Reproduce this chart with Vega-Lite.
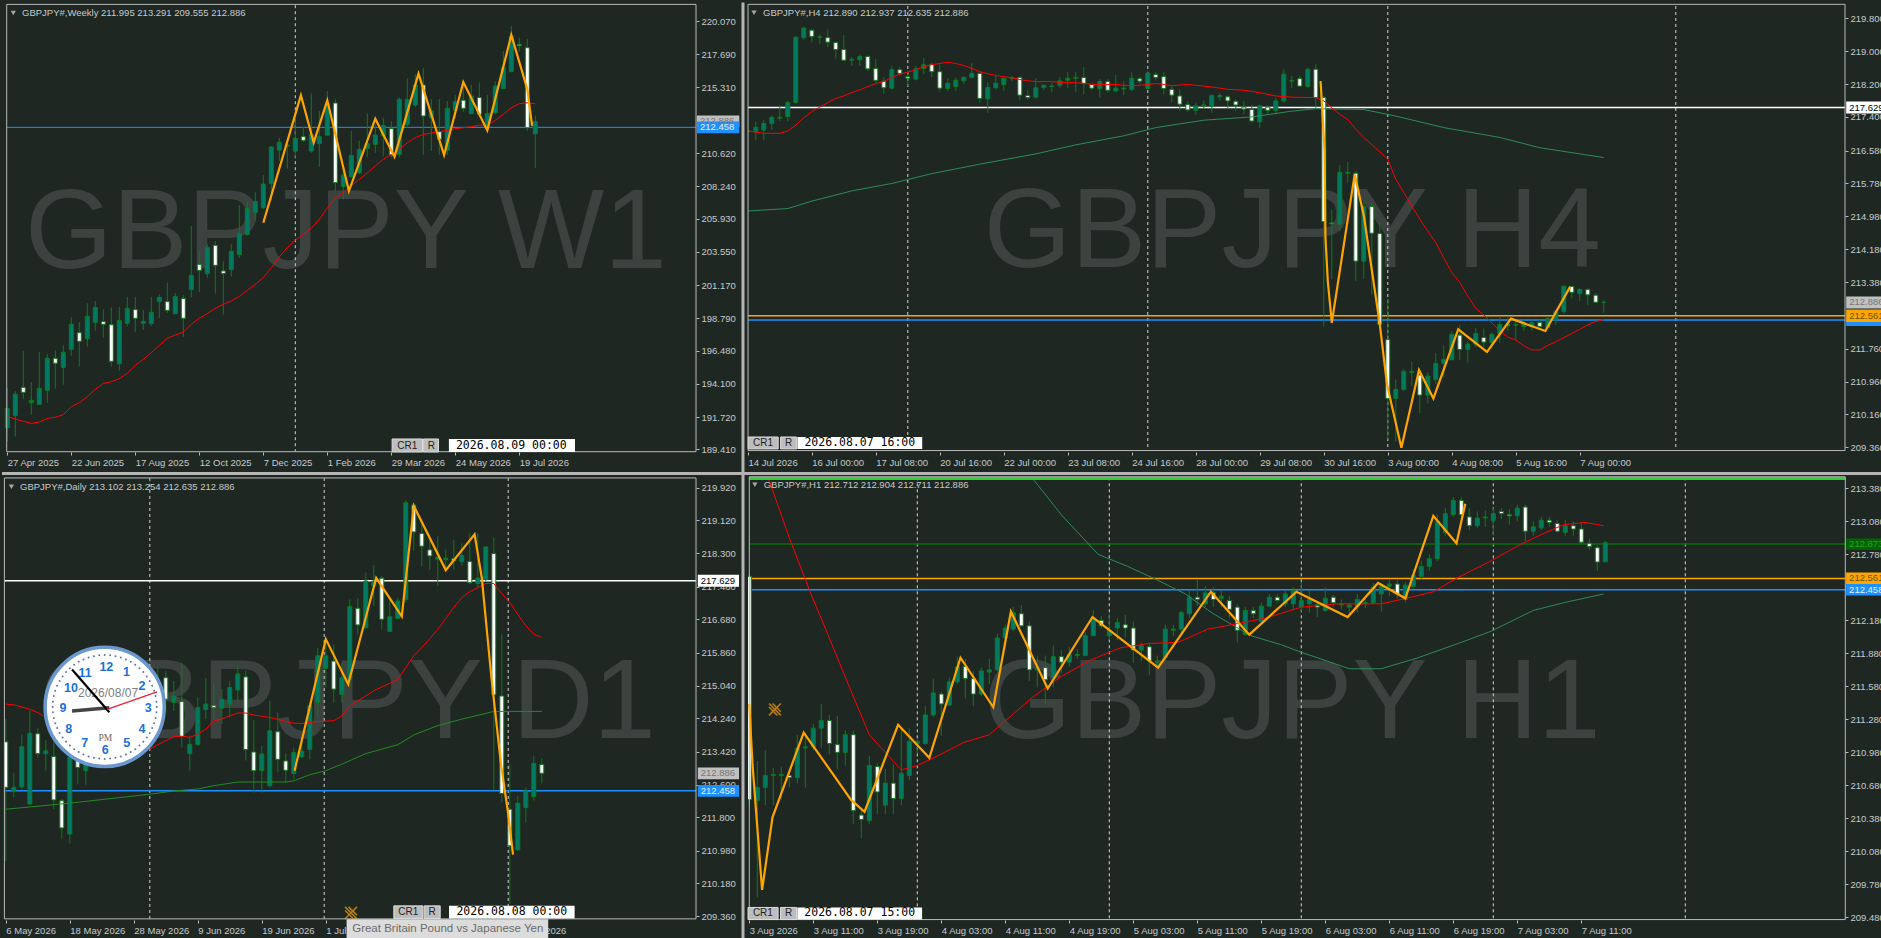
{"$schema":"https://vega.github.io/schema/vega-lite/v6.json","background":"#1f2723","padding":0,"bounds":"flush","align":"each","columns":2,"spacing":{"row":24,"column":52},
"config":{"view":{"stroke":null},"font":"Liberation Sans","axis":{"grid":false,"domain":false,"title":null,"labelColor":"#c6cacc","labelFont":"Liberation Sans","labelFontSize":9.5,"tickColor":"#b9b9b9","tickSize":3,"labelPadding":2,"labelOverlap":false,"labelFlush":false,"labelBound":false}},
"datasets":{
"a":[{"i":0,"o":190.96,"h":193.82,"l":189.96,"c":192.34},{"i":1,"o":191.82,"h":193.58,"l":190.32,"c":193.35},{"i":2,"o":193.85,"h":196.45,"l":193.04,"c":193.49},{"i":3,"o":192.75,"h":194.23,"l":191.89,"c":192.92},{"i":4,"o":192.63,"h":196.38,"l":192.6,"c":193.77},{"i":5,"o":193.63,"h":196.21,"l":192.75,"c":195.92},{"i":6,"o":195.92,"h":196.5,"l":193.75,"c":195.57},{"i":7,"o":195.28,"h":196.85,"l":194.04,"c":196.35},{"i":8,"o":196.57,"h":198.86,"l":196.11,"c":198.36},{"i":9,"o":197.76,"h":198.52,"l":195.33,"c":197.14},{"i":10,"o":197.33,"h":199.86,"l":196.76,"c":198.93},{"i":11,"o":198.5,"h":200.03,"l":197.9,"c":199.57},{"i":12,"o":198.55,"h":199.43,"l":197.4,"c":198.36},{"i":13,"o":198.33,"h":199.57,"l":195.33,"c":195.71},{"i":14,"o":195.54,"h":199.6,"l":195.04,"c":198.64},{"i":15,"o":198.43,"h":200.31,"l":198.19,"c":199.5},{"i":16,"o":199.41,"h":200.31,"l":197.81,"c":198.79},{"i":17,"o":198.43,"h":199.38,"l":197.95,"c":198.57},{"i":18,"o":198.41,"h":200.31,"l":198.24,"c":199.22},{"i":19,"o":199.98,"h":200.51,"l":198.79,"c":200.29},{"i":20,"o":199.98,"h":201.34,"l":199.17,"c":199.36},{"i":21,"o":199.12,"h":200.6,"l":199.12,"c":200.36},{"i":22,"o":200.2,"h":200.46,"l":197.45,"c":198.79},{"i":23,"o":200.84,"h":205.4,"l":200.27,"c":201.87},{"i":24,"o":202.65,"h":203.61,"l":200.67,"c":202.22},{"i":25,"o":201.99,"h":204.09,"l":201.7,"c":203.87},{"i":26,"o":204.01,"h":204.32,"l":200.55,"c":202.58},{"i":27,"o":202.18,"h":202.87,"l":199.07,"c":201.99},{"i":28,"o":202.27,"h":204.09,"l":201.77,"c":203.58},{"i":29,"o":203.35,"h":206.9,"l":203.1,"c":204.85},{"i":30,"o":204.79,"h":207.2,"l":204.7,"c":206.66},{"i":31,"o":206.37,"h":207.8,"l":205.8,"c":207.16},{"i":32,"o":206.7,"h":209.05,"l":206.6,"c":208.4},{"i":33,"o":208.42,"h":211.12,"l":207.2,"c":211.05},{"i":34,"o":210.83,"h":211.7,"l":210.05,"c":211.4},{"i":35,"o":211.12,"h":211.5,"l":209.5,"c":211.2},{"i":36,"o":210.76,"h":213.1,"l":210.3,"c":211.67},{"i":37,"o":211.79,"h":212.5,"l":211.4,"c":211.53},{"i":38,"o":210.76,"h":214.87,"l":210.64,"c":211.95},{"i":39,"o":211.29,"h":213.63,"l":209.64,"c":211.79},{"i":40,"o":211.9,"h":215.06,"l":211.9,"c":214.1},{"i":41,"o":214.2,"h":214.46,"l":207.9,"c":208.5},{"i":42,"o":208.23,"h":209.3,"l":207.3,"c":209.04},{"i":43,"o":208.92,"h":212.2,"l":208.85,"c":210.45},{"i":44,"o":209.2,"h":211.5,"l":209.1,"c":210.88},{"i":45,"o":210.95,"h":213.43,"l":210.3,"c":211.29},{"i":46,"o":211.24,"h":212.67,"l":210.64,"c":211.9},{"i":47,"o":211.84,"h":213.15,"l":210.4,"c":212.6},{"i":48,"o":212.36,"h":212.9,"l":210.3,"c":210.48},{"i":49,"o":210.52,"h":214.63,"l":210.3,"c":214.46},{"i":50,"o":212.67,"h":215.96,"l":212.43,"c":214.46},{"i":51,"o":214.05,"h":216.25,"l":213.9,"c":215.49},{"i":52,"o":215.49,"h":216.7,"l":210.5,"c":213.27},{"i":53,"o":213.15,"h":214.5,"l":210.77,"c":213.63},{"i":54,"o":212.15,"h":214.47,"l":210.5,"c":211.6},{"i":55,"o":210.82,"h":214.35,"l":210.5,"c":213.82},{"i":56,"o":213.68,"h":214.78,"l":213.1,"c":214.3},{"i":57,"o":214.4,"h":215.42,"l":213.58,"c":213.82},{"i":58,"o":213.44,"h":215.5,"l":213.4,"c":214.7},{"i":59,"o":214.59,"h":215.66,"l":213.27,"c":213.39},{"i":60,"o":212.56,"h":214.78,"l":212.44,"c":213.44},{"i":61,"o":213.51,"h":215.75,"l":213.4,"c":215.42},{"i":62,"o":215.23,"h":217.92,"l":215.2,"c":216.73},{"i":63,"o":216.44,"h":219.71,"l":216.44,"c":218.99},{"i":64,"o":218.4,"h":218.88,"l":217.9,"c":218.3},{"i":65,"o":218.16,"h":218.8,"l":212.2,"c":212.43},{"i":66,"o":211.995,"h":213.291,"l":209.555,"c":212.886}],
"aR":[{"i":0,"p":191.75},{"i":1,"p":191.58},{"i":2,"p":191.41},{"i":3,"p":191.27},{"i":4,"p":191.36},{"i":5,"p":191.63},{"i":6,"p":191.7},{"i":7,"p":191.89},{"i":8,"p":192.46},{"i":9,"p":192.75},{"i":10,"p":193.18},{"i":11,"p":193.7},{"i":12,"p":194.13},{"i":13,"p":194.25},{"i":14,"p":194.47},{"i":15,"p":194.85},{"i":16,"p":195.42},{"i":17,"p":195.85},{"i":18,"p":196.33},{"i":19,"p":196.85},{"i":20,"p":197.36},{"i":21,"p":197.59},{"i":22,"p":197.8},{"i":23,"p":198.36},{"i":24,"p":198.79},{"i":25,"p":199.12},{"i":26,"p":199.5},{"i":27,"p":199.79},{"i":28,"p":200.03},{"i":29,"p":200.36},{"i":30,"p":200.79},{"i":31,"p":201.22},{"i":32,"p":201.7},{"i":33,"p":202.41},{"i":34,"p":203.18},{"i":35,"p":203.85},{"i":36,"p":204.37},{"i":37,"p":204.8},{"i":38,"p":205.23},{"i":39,"p":205.87},{"i":40,"p":206.7},{"i":41,"p":207.4},{"i":42,"p":207.8},{"i":43,"p":208.26},{"i":44,"p":208.74},{"i":45,"p":209.2},{"i":46,"p":209.69},{"i":47,"p":210.17},{"i":48,"p":210.52},{"i":49,"p":210.88},{"i":50,"p":211.36},{"i":51,"p":211.72},{"i":52,"p":211.95},{"i":53,"p":212.05},{"i":54,"p":212.15},{"i":55,"p":212.24},{"i":56,"p":212.36},{"i":57,"p":212.43},{"i":58,"p":212.5},{"i":59,"p":212.62},{"i":60,"p":212.6},{"i":61,"p":212.96},{"i":62,"p":213.39},{"i":63,"p":213.86},{"i":64,"p":214.15},{"i":65,"p":214.22},{"i":66,"p":214.15}],
"aZ":[{"i":32,"p":205.63},{"i":36.7,"p":214.75},{"i":38.3,"p":211.36},{"i":40,"p":214.39},{"i":42.7,"p":207.9},{"i":46,"p":213.08},{"i":48.4,"p":210.36},{"i":51.4,"p":216.3},{"i":54.6,"p":210.47},{"i":57,"p":215.7},{"i":60,"p":212.24},{"i":63,"p":219.07},{"i":65,"p":215.18},{"i":65.6,"p":212.56}],
"b":[{"i":0,"o":217.07,"h":217.3,"l":216.9,"c":217.05},{"i":1,"o":217.03,"h":217.28,"l":216.83,"c":217.15},{"i":2,"o":217.08,"h":217.33,"l":216.84,"c":217.24},{"i":3,"o":217.24,"h":217.45,"l":217.09,"c":217.39},{"i":4,"o":217.37,"h":217.69,"l":217.3,"c":217.39},{"i":5,"o":217.41,"h":217.79,"l":217.29,"c":217.75},{"i":6,"o":217.75,"h":219.37,"l":217.72,"c":219.34},{"i":7,"o":219.33,"h":219.6,"l":219.28,"c":219.56},{"i":8,"o":219.51,"h":219.53,"l":219.21,"c":219.36},{"i":9,"o":219.34,"h":219.41,"l":219.18,"c":219.35},{"i":10,"o":219.33,"h":219.53,"l":219.1,"c":219.22},{"i":11,"o":219.21,"h":219.23,"l":218.82,"c":219.04},{"i":12,"o":219.04,"h":219.39,"l":218.76,"c":218.78},{"i":13,"o":218.78,"h":218.86,"l":218.64,"c":218.8},{"i":14,"o":218.79,"h":218.92,"l":218.64,"c":218.87},{"i":15,"o":218.87,"h":218.9,"l":218.52,"c":218.57},{"i":16,"o":218.58,"h":218.81,"l":218.23,"c":218.29},{"i":17,"o":218.27,"h":218.36,"l":217.96,"c":218.11},{"i":18,"o":218.1,"h":218.64,"l":218.06,"c":218.55},{"i":19,"o":218.55,"h":218.61,"l":218.4,"c":218.46},{"i":20,"o":218.38,"h":218.53,"l":218.15,"c":218.34},{"i":21,"o":218.32,"h":218.64,"l":218.29,"c":218.57},{"i":22,"o":218.58,"h":218.83,"l":218.44,"c":218.67},{"i":23,"o":218.68,"h":218.72,"l":218.37,"c":218.5},{"i":24,"o":218.5,"h":218.68,"l":218.02,"c":218.1},{"i":25,"o":218.09,"h":218.34,"l":218.02,"c":218.22},{"i":26,"o":218.14,"h":218.36,"l":218.03,"c":218.29},{"i":27,"o":218.28,"h":218.4,"l":218.2,"c":218.36},{"i":28,"o":218.36,"h":218.71,"l":218.34,"c":218.46},{"i":29,"o":218.46,"h":218.52,"l":217.75,"c":217.85},{"i":30,"o":217.84,"h":218.25,"l":217.5,"c":218.12},{"i":31,"o":218.11,"h":218.4,"l":218.07,"c":218.22},{"i":32,"o":218.19,"h":218.37,"l":218.03,"c":218.34},{"i":33,"o":218.34,"h":218.4,"l":218.27,"c":218.36},{"i":34,"o":218.36,"h":218.4,"l":217.81,"c":217.93},{"i":35,"o":217.92,"h":218.05,"l":217.81,"c":217.87},{"i":36,"o":217.88,"h":218.34,"l":217.85,"c":218.11},{"i":37,"o":218.12,"h":218.19,"l":218.05,"c":218.17},{"i":38,"o":218.15,"h":218.23,"l":218,"c":218.14},{"i":39,"o":218.17,"h":218.37,"l":218.11,"c":218.28},{"i":40,"o":218.29,"h":218.49,"l":218.11,"c":218.34},{"i":41,"o":218.34,"h":218.49,"l":218.01,"c":218.36},{"i":42,"o":218.36,"h":218.61,"l":217.95,"c":218.21},{"i":43,"o":218.19,"h":218.21,"l":218.05,"c":218.1},{"i":44,"o":218.09,"h":218.32,"l":217.87,"c":218.26},{"i":45,"o":218.26,"h":218.32,"l":217.99,"c":218.05},{"i":46,"o":218.03,"h":218.42,"l":218,"c":218.1},{"i":47,"o":218.08,"h":218.27,"l":217.93,"c":218.1},{"i":48,"o":218.07,"h":218.48,"l":218.03,"c":218.34},{"i":49,"o":218.33,"h":218.37,"l":218.2,"c":218.27},{"i":50,"o":218.09,"h":218.52,"l":218.08,"c":218.46},{"i":51,"o":218.43,"h":218.49,"l":218.29,"c":218.36},{"i":52,"o":218.38,"h":218.49,"l":217.95,"c":218.09},{"i":53,"o":218.07,"h":218.15,"l":217.75,"c":217.93},{"i":54,"o":217.91,"h":218.07,"l":217.54,"c":217.71},{"i":55,"o":217.7,"h":217.79,"l":217.53,"c":217.57},{"i":56,"o":217.56,"h":217.75,"l":217.45,"c":217.67},{"i":57,"o":217.66,"h":217.8,"l":217.6,"c":217.69},{"i":58,"o":217.66,"h":217.95,"l":217.5,"c":217.92},{"i":59,"o":217.89,"h":217.98,"l":217.8,"c":217.92},{"i":60,"o":217.89,"h":217.92,"l":217.6,"c":217.79},{"i":61,"o":217.78,"h":217.83,"l":217.54,"c":217.69},{"i":62,"o":217.64,"h":217.79,"l":217.46,"c":217.59},{"i":63,"o":217.58,"h":217.7,"l":217.26,"c":217.3},{"i":64,"o":217.28,"h":217.7,"l":217.14,"c":217.67},{"i":65,"o":217.64,"h":217.69,"l":217.46,"c":217.56},{"i":66,"o":217.56,"h":217.87,"l":217.46,"c":217.79},{"i":67,"o":217.79,"h":218.56,"l":217.75,"c":218.44},{"i":68,"o":218.27,"h":218.4,"l":218.1,"c":218.29},{"i":69,"o":218.33,"h":218.4,"l":218.13,"c":218.15},{"i":70,"o":218.14,"h":218.6,"l":218.11,"c":218.56},{"i":71,"o":218.56,"h":218.68,"l":217.62,"c":217.87},{"i":72,"o":217.87,"h":217.91,"l":212.3,"c":214.85},{"i":73,"o":214.82,"h":215.13,"l":213.45,"c":214.8},{"i":74,"o":214.79,"h":216.23,"l":214.62,"c":216.05},{"i":75,"o":216.03,"h":216.3,"l":215.8,"c":216.05},{"i":76,"o":216.03,"h":216.08,"l":213.41,"c":213.89},{"i":77,"o":213.89,"h":215.37,"l":213.46,"c":215.22},{"i":78,"o":215.22,"h":215.3,"l":213.08,"c":214.57},{"i":79,"o":214.56,"h":214.84,"l":212.31,"c":212.35},{"i":80,"o":211.98,"h":212.98,"l":209.55,"c":210.55},{"i":81,"o":210.55,"h":211.01,"l":209.51,"c":210.77},{"i":82,"o":210.77,"h":211.26,"l":210.73,"c":211.21},{"i":83,"o":211.18,"h":211.44,"l":210.85,"c":211.2},{"i":84,"o":211.12,"h":211.18,"l":210.19,"c":210.63},{"i":85,"o":210.63,"h":211.18,"l":210.43,"c":211.09},{"i":86,"o":211.01,"h":211.65,"l":210.89,"c":211.4},{"i":87,"o":211.4,"h":211.84,"l":211.06,"c":211.5},{"i":88,"o":211.49,"h":212.19,"l":211.48,"c":212.11},{"i":89,"o":212.09,"h":212.34,"l":211.48,"c":211.74},{"i":90,"o":211.74,"h":211.95,"l":211.42,"c":211.87},{"i":91,"o":211.87,"h":212.26,"l":211.8,"c":212.13},{"i":92,"o":212.03,"h":212.25,"l":211.78,"c":211.92},{"i":93,"o":211.91,"h":212.15,"l":211.75,"c":212.11},{"i":94,"o":212.13,"h":212.54,"l":211.91,"c":212.35},{"i":95,"o":212.35,"h":212.54,"l":212.19,"c":212.32},{"i":96,"o":212.33,"h":212.47,"l":211.97,"c":212.35},{"i":97,"o":212.3,"h":212.47,"l":212.19,"c":212.39},{"i":98,"o":212.3,"h":212.47,"l":212.19,"c":212.39},{"i":99,"o":212.4,"h":212.47,"l":212.21,"c":212.3},{"i":100,"o":212.27,"h":212.53,"l":212.26,"c":212.49},{"i":101,"o":212.47,"h":212.72,"l":212.34,"c":212.66},{"i":102,"o":212.66,"h":213.29,"l":212.61,"c":213.28},{"i":103,"o":213.27,"h":213.29,"l":212.98,"c":213.13},{"i":104,"o":213.1,"h":213.24,"l":212.92,"c":213.2},{"i":105,"o":213.2,"h":213.23,"l":212.82,"c":213.07},{"i":106,"o":213.06,"h":213.11,"l":212.88,"c":212.89},{"i":107,"o":212.89,"h":212.937,"l":212.635,"c":212.886}],
"bR":[{"i":0,"p":217.06},{"i":1,"p":217.03},{"i":2,"p":217},{"i":3,"p":217},{"i":4,"p":217},{"i":5,"p":217.06},{"i":6,"p":217.2},{"i":7,"p":217.38},{"i":8,"p":217.53},{"i":9,"p":217.64},{"i":10,"p":217.75},{"i":11,"p":217.85},{"i":12,"p":217.91},{"i":13,"p":217.99},{"i":14,"p":218.06},{"i":15,"p":218.14},{"i":16,"p":218.21},{"i":17,"p":218.26},{"i":18,"p":218.36},{"i":19,"p":218.44},{"i":20,"p":218.49},{"i":21,"p":218.55},{"i":22,"p":218.62},{"i":23,"p":218.67},{"i":24,"p":218.7},{"i":25,"p":218.73},{"i":26,"p":218.7},{"i":27,"p":218.65},{"i":28,"p":218.58},{"i":29,"p":218.5},{"i":30,"p":218.45},{"i":31,"p":218.41},{"i":32,"p":218.38},{"i":33,"p":218.35},{"i":34,"p":218.31},{"i":35,"p":218.28},{"i":36,"p":218.26},{"i":37,"p":218.26},{"i":38,"p":218.26},{"i":39,"p":218.24},{"i":40,"p":218.24},{"i":41,"p":218.23},{"i":42,"p":218.22},{"i":43,"p":218.19},{"i":44,"p":218.19},{"i":45,"p":218.19},{"i":46,"p":218.19},{"i":47,"p":218.17},{"i":48,"p":218.16},{"i":49,"p":218.17},{"i":50,"p":218.19},{"i":51,"p":218.21},{"i":52,"p":218.19},{"i":53,"p":218.16},{"i":55,"p":218.19},{"i":56,"p":218.17},{"i":58,"p":218.13},{"i":60,"p":218.07},{"i":62,"p":218.05},{"i":64,"p":217.99},{"i":66,"p":217.91},{"i":68,"p":217.88},{"i":71,"p":217.87},{"i":72,"p":217.79},{"i":73,"p":217.62},{"i":74,"p":217.46},{"i":75,"p":217.34},{"i":76,"p":217.1},{"i":77,"p":216.9},{"i":79,"p":216.55},{"i":80,"p":216.37},{"i":81,"p":215.88},{"i":82,"p":215.56},{"i":83,"p":215.23},{"i":84,"p":214.91},{"i":85,"p":214.62},{"i":86,"p":214.34},{"i":87,"p":213.97},{"i":88,"p":213.61},{"i":89,"p":213.37},{"i":90,"p":213.04},{"i":91,"p":212.74},{"i":92,"p":212.58},{"i":93,"p":212.39},{"i":94,"p":212.19},{"i":95,"p":212.04},{"i":96,"p":211.97},{"i":97,"p":211.83},{"i":98,"p":211.73},{"i":99,"p":211.73},{"i":100,"p":211.84},{"i":101,"p":211.93},{"i":102,"p":212.03},{"i":103,"p":212.13},{"i":104,"p":212.23},{"i":105,"p":212.34},{"i":106,"p":212.42},{"i":107,"p":212.47}],
"bG":[{"i":0,"p":215.11},{"i":5,"p":215.17},{"i":8,"p":215.35},{"i":13,"p":215.6},{"i":18,"p":215.78},{"i":23,"p":216.02},{"i":29,"p":216.25},{"i":36,"p":216.5},{"i":41,"p":216.72},{"i":47,"p":216.94},{"i":51,"p":217.14},{"i":57,"p":217.32},{"i":63,"p":217.4},{"i":68,"p":217.54},{"i":71,"p":217.6},{"i":77,"p":217.58},{"i":81,"p":217.42},{"i":87,"p":217.14},{"i":94,"p":216.9},{"i":99,"p":216.65},{"i":107,"p":216.41}],
"bZ":[{"i":71.6,"p":218.27},{"i":72.1,"p":216.57},{"i":72.2,"p":214.5},{"i":72.5,"p":213.4},{"i":73,"p":212.39},{"i":75.86,"p":216},{"i":77,"p":215},{"i":79,"p":212.35},{"i":79.9,"p":210.89},{"i":81.7,"p":209.35},{"i":83.9,"p":211.24},{"i":85.7,"p":210.55},{"i":88.8,"p":212.23},{"i":92.4,"p":211.68},{"i":95.4,"p":212.49},{"i":99.7,"p":212.19},{"i":102.8,"p":213.27}],
"c":[{"i":0,"o":213.66,"h":214.22,"l":210.73,"c":212.54},{"i":1,"o":212.45,"h":212.9,"l":212.3,"c":212.54},{"i":2,"o":212.55,"h":213.85,"l":212.5,"c":213.54},{"i":3,"o":212.13,"h":214.42,"l":212.1,"c":213.87},{"i":4,"o":213.86,"h":214,"l":213.28,"c":213.37},{"i":5,"o":213.37,"h":213.7,"l":212.95,"c":213.44},{"i":6,"o":213.3,"h":213.7,"l":212,"c":212.23},{"i":7,"o":212.21,"h":212.25,"l":211.28,"c":211.54},{"i":8,"o":211.39,"h":213.44,"l":211.16,"c":213.28},{"i":9,"o":213.2,"h":213.35,"l":212.62,"c":213.03},{"i":10,"o":212.95,"h":213.27,"l":212.6,"c":213.11},{"i":19,"o":214.8,"h":215.5,"l":214.4,"c":215.1},{"i":20,"o":215.24,"h":215.4,"l":214.4,"c":214.71},{"i":21,"o":214.63,"h":215.16,"l":214.42,"c":214.79},{"i":22,"o":214.65,"h":215.61,"l":213.52,"c":213.79},{"i":23,"o":213.37,"h":213.81,"l":212.95,"c":213.6},{"i":24,"o":213.6,"h":214.75,"l":213.56,"c":214.5},{"i":25,"o":214.46,"h":215.23,"l":214.22,"c":214.59},{"i":26,"o":214.56,"h":215.08,"l":214.2,"c":214.5},{"i":27,"o":214.49,"h":214.96,"l":214.1,"c":214.71},{"i":28,"o":214.59,"h":215.16,"l":214.26,"c":215},{"i":29,"o":214.94,"h":215.53,"l":214.67,"c":215.33},{"i":30,"o":215.26,"h":215.41,"l":213.2,"c":213.47},{"i":31,"o":213.41,"h":214.2,"l":212.41,"c":212.95},{"i":32,"o":212.95,"h":213.56,"l":212.41,"c":213.36},{"i":33,"o":212.58,"h":214.67,"l":212.54,"c":213.93},{"i":34,"o":213.91,"h":214.38,"l":212.91,"c":213.23},{"i":35,"o":213.19,"h":213.36,"l":212.66,"c":212.96},{"i":36,"o":212.88,"h":213.52,"l":212.74,"c":213.4},{"i":37,"o":213.29,"h":213.77,"l":213.26,"c":213.43},{"i":38,"o":213.47,"h":214.63,"l":213.23,"c":214.55},{"i":39,"o":214.63,"h":215.98,"l":214.26,"c":215.78},{"i":40,"o":215.47,"h":216.14,"l":215,"c":215.78},{"i":41,"o":215.65,"h":216.06,"l":214.63,"c":214.96},{"i":42,"o":214.83,"h":215.61,"l":214.63,"c":215.24},{"i":43,"o":215.2,"h":217.17,"l":215,"c":216.99},{"i":44,"o":216.95,"h":217.2,"l":216.3,"c":216.54},{"i":45,"o":216.47,"h":217.83,"l":216.43,"c":217.62},{"i":46,"o":217.5,"h":218.01,"l":217,"c":217.62},{"i":47,"o":217.69,"h":217.75,"l":216.43,"c":216.68},{"i":48,"o":216.38,"h":217.17,"l":216.37,"c":216.74},{"i":49,"o":216.7,"h":217.21,"l":216.68,"c":217.13},{"i":50,"o":217.17,"h":219.61,"l":217.09,"c":219.55},{"i":51,"o":219.49,"h":219.53,"l":218.36,"c":218.83},{"i":52,"o":218.79,"h":219.1,"l":217.99,"c":218.48},{"i":53,"o":218.39,"h":218.69,"l":217.89,"c":218.24},{"i":54,"o":218.16,"h":218.73,"l":217.5,"c":218.21},{"i":55,"o":218.15,"h":218.4,"l":217.9,"c":218.18},{"i":56,"o":218.17,"h":218.63,"l":217.9,"c":218.12},{"i":57,"o":218.1,"h":218.55,"l":218,"c":218.25},{"i":58,"o":218.1,"h":218.79,"l":217.54,"c":217.58},{"i":59,"o":217.56,"h":218.79,"l":217.46,"c":217.69},{"i":60,"o":217.66,"h":218.48,"l":217.62,"c":218.46},{"i":61,"o":218.3,"h":218.69,"l":212.46,"c":214.82},{"i":62,"o":214.79,"h":216.31,"l":212.17,"c":212.39},{"i":63,"o":212,"h":213.1,"l":209.67,"c":211.1},{"i":64,"o":211,"h":212.33,"l":210.98,"c":212.15},{"i":65,"o":212.04,"h":212.54,"l":211.68,"c":212.45},{"i":66,"o":212.31,"h":213.32,"l":212.21,"c":213.13},{"i":67,"o":213.102,"h":213.254,"l":212.635,"c":212.886}],
"cR":[{"i":0,"p":214.59},{"i":1,"p":214.57},{"i":2,"p":214.52},{"i":3,"p":214.46},{"i":4,"p":214.38},{"i":5,"p":214.26},{"i":18,"p":213.48},{"i":19,"p":213.59},{"i":20,"p":213.69},{"i":21,"p":213.79},{"i":22,"p":213.8},{"i":23,"p":213.77},{"i":24,"p":213.85},{"i":25,"p":213.97},{"i":26,"p":214.18},{"i":27,"p":214.22},{"i":28,"p":214.3},{"i":29,"p":214.37},{"i":30,"p":214.37},{"i":31,"p":214.32},{"i":32,"p":214.29},{"i":33,"p":214.26},{"i":34,"p":214.22},{"i":35,"p":214.16},{"i":36,"p":214.12},{"i":37,"p":214.11},{"i":38,"p":214.14},{"i":39,"p":214.16},{"i":40,"p":214.17},{"i":41,"p":214.18},{"i":42,"p":214.3},{"i":43,"p":214.55},{"i":44,"p":214.67},{"i":45,"p":214.79},{"i":46,"p":214.92},{"i":47,"p":215.01},{"i":48,"p":215.1},{"i":49,"p":215.2},{"i":50,"p":215.49},{"i":51,"p":215.78},{"i":52,"p":215.98},{"i":53,"p":216.2},{"i":54,"p":216.43},{"i":55,"p":216.7},{"i":56,"p":216.97},{"i":57,"p":217.21},{"i":58,"p":217.36},{"i":59,"p":217.46},{"i":60,"p":217.56},{"i":61,"p":217.56},{"i":62,"p":217.31},{"i":63,"p":217.09},{"i":64,"p":216.8},{"i":65,"p":216.52},{"i":66,"p":216.31},{"i":67,"p":216.23}],
"cG":[{"i":0,"p":212},{"i":8,"p":212.15},{"i":18,"p":212.37},{"i":21,"p":212.45},{"i":24,"p":212.5},{"i":26,"p":212.58},{"i":29,"p":212.67},{"i":35,"p":212.67},{"i":36,"p":212.7},{"i":38,"p":212.85},{"i":40,"p":212.95},{"i":42,"p":213.11},{"i":45,"p":213.37},{"i":49,"p":213.59},{"i":51,"p":213.83},{"i":54,"p":214.06},{"i":57,"p":214.22},{"i":60,"p":214.36},{"i":61,"p":214.41},{"i":67,"p":214.41}],
"cZ":[{"i":36.1,"p":212.95},{"i":40,"p":216.19},{"i":42.8,"p":215.08},{"i":46.3,"p":217.7},{"i":49.5,"p":216.75},{"i":51,"p":219.47},{"i":55,"p":217.89},{"i":58.6,"p":218.77},{"i":59.5,"p":217.7},{"i":60.1,"p":216.47},{"i":60.7,"p":215.24},{"i":61.9,"p":213.11},{"i":62.8,"p":211.88},{"i":63.4,"p":210.88}],
"d":[{"i":0,"o":212.58,"h":212.6,"l":210.5,"c":210.55},{"i":1,"o":210.54,"h":210.9,"l":209.66,"c":210.66},{"i":2,"o":210.66,"h":211,"l":210.5,"c":210.77},{"i":3,"o":210.77,"h":210.84,"l":210.5,"c":210.78},{"i":4,"o":210.77,"h":210.85,"l":210.55,"c":210.78},{"i":5,"o":210.77,"h":210.8,"l":210.66,"c":210.75},{"i":6,"o":210.75,"h":211.14,"l":210.7,"c":211.02},{"i":7,"o":211.02,"h":211.16,"l":210.66,"c":211.03},{"i":8,"o":211.03,"h":211.24,"l":211,"c":211.2},{"i":9,"o":211.2,"h":211.42,"l":211.02,"c":211.27},{"i":10,"o":211.27,"h":211.32,"l":210.96,"c":211.06},{"i":11,"o":211.05,"h":211.31,"l":210.83,"c":210.98},{"i":12,"o":210.98,"h":211.18,"l":210.86,"c":211.14},{"i":13,"o":211.14,"h":211.18,"l":210.33,"c":210.45},{"i":14,"o":210.41,"h":210.47,"l":210.2,"c":210.37},{"i":15,"o":210.36,"h":210.95,"l":210.33,"c":210.86},{"i":16,"o":210.85,"h":210.88,"l":210.42,"c":210.62},{"i":17,"o":210.5,"h":210.83,"l":210.42,"c":210.7},{"i":18,"o":210.7,"h":210.87,"l":210.42,"c":210.56},{"i":19,"o":210.56,"h":211.2,"l":210.5,"c":210.79},{"i":20,"o":210.77,"h":211.2,"l":210.73,"c":211.08},{"i":21,"o":211.06,"h":211.1,"l":210.97,"c":211.08},{"i":22,"o":211.06,"h":211.4,"l":211.05,"c":211.32},{"i":23,"o":211.32,"h":211.65,"l":211.3,"c":211.52},{"i":24,"o":211.51,"h":211.53,"l":211.13,"c":211.42},{"i":25,"o":211.41,"h":211.66,"l":211.4,"c":211.62},{"i":26,"o":211.62,"h":211.85,"l":211.6,"c":211.76},{"i":27,"o":211.76,"h":211.83,"l":211.47,"c":211.65},{"i":28,"o":211.65,"h":211.72,"l":211.4,"c":211.51},{"i":29,"o":211.51,"h":211.75,"l":211.49,"c":211.72},{"i":30,"o":211.71,"h":211.83,"l":211.6,"c":211.73},{"i":31,"o":211.73,"h":212.06,"l":211.72,"c":212.02},{"i":32,"o":212.02,"h":212.14,"l":212,"c":212.11},{"i":33,"o":212.1,"h":212.3,"l":212.08,"c":212.25},{"i":34,"o":212.24,"h":212.32,"l":212.12,"c":212.13},{"i":35,"o":212.13,"h":212.17,"l":211.63,"c":211.73},{"i":36,"o":211.73,"h":211.86,"l":211.57,"c":211.75},{"i":37,"o":211.75,"h":211.86,"l":211.42,"c":211.64},{"i":38,"o":211.66,"h":211.95,"l":211.57,"c":211.85},{"i":39,"o":211.85,"h":211.91,"l":211.7,"c":211.8},{"i":40,"o":211.8,"h":211.94,"l":211.76,"c":211.87},{"i":41,"o":211.86,"h":211.92,"l":211.83,"c":211.87},{"i":42,"o":211.86,"h":212.07,"l":211.86,"c":212.04},{"i":43,"o":212.04,"h":212.27,"l":212.04,"c":212.2},{"i":44,"o":212.18,"h":212.22,"l":212.11,"c":212.13},{"i":45,"o":212.04,"h":212.24,"l":212,"c":212.09},{"i":46,"o":212.11,"h":212.2,"l":212,"c":212.16},{"i":47,"o":212.14,"h":212.23,"l":212.02,"c":212.11},{"i":48,"o":212.11,"h":212.17,"l":211.79,"c":211.91},{"i":49,"o":211.91,"h":211.98,"l":211.81,"c":211.95},{"i":50,"o":211.94,"h":211.98,"l":211.68,"c":211.81},{"i":51,"o":211.8,"h":211.86,"l":211.75,"c":211.81},{"i":52,"o":211.84,"h":212.14,"l":211.81,"c":212.1},{"i":53,"o":212.09,"h":212.14,"l":212.04,"c":212.1},{"i":54,"o":212.1,"h":212.27,"l":212.05,"c":212.25},{"i":55,"o":212.24,"h":212.45,"l":212.2,"c":212.39},{"i":56,"o":212.39,"h":212.55,"l":212.31,"c":212.37},{"i":57,"o":212.33,"h":212.49,"l":212.3,"c":212.43},{"i":58,"o":212.43,"h":212.48,"l":212.3,"c":212.37},{"i":59,"o":212.38,"h":212.45,"l":212.3,"c":212.4},{"i":60,"o":212.36,"h":212.4,"l":212.2,"c":212.28},{"i":61,"o":212.3,"h":212.33,"l":211.98,"c":212.09},{"i":62,"o":212.05,"h":212.3,"l":212.04,"c":212.27},{"i":63,"o":212.27,"h":212.3,"l":212.2,"c":212.24},{"i":64,"o":212.17,"h":212.34,"l":212.14,"c":212.31},{"i":65,"o":212.31,"h":212.42,"l":212.3,"c":212.39},{"i":66,"o":212.39,"h":212.42,"l":212.34,"c":212.36},{"i":67,"o":212.33,"h":212.45,"l":212.3,"c":212.42},{"i":68,"o":212.33,"h":212.48,"l":212.27,"c":212.45},{"i":69,"o":212.3,"h":212.53,"l":212.26,"c":212.36},{"i":70,"o":212.33,"h":212.45,"l":212.25,"c":212.37},{"i":71,"o":212.32,"h":212.34,"l":212.21,"c":212.3},{"i":72,"o":212.27,"h":212.48,"l":212.26,"c":212.38},{"i":73,"o":212.39,"h":212.41,"l":212.3,"c":212.34},{"i":74,"o":212.32,"h":212.37,"l":212.28,"c":212.33},{"i":75,"o":212.3,"h":212.34,"l":212.23,"c":212.32},{"i":76,"o":212.31,"h":212.42,"l":212.25,"c":212.37},{"i":77,"o":212.33,"h":212.38,"l":212.29,"c":212.34},{"i":78,"o":212.34,"h":212.52,"l":212.33,"c":212.48},{"i":79,"o":212.42,"h":212.52,"l":212.26,"c":212.49},{"i":80,"o":212.49,"h":212.55,"l":212.4,"c":212.51},{"i":81,"o":212.51,"h":212.55,"l":212.38,"c":212.42},{"i":82,"o":212.37,"h":212.53,"l":212.34,"c":212.5},{"i":83,"o":212.49,"h":212.64,"l":212.46,"c":212.59},{"i":84,"o":212.58,"h":212.72,"l":212.55,"c":212.67},{"i":85,"o":212.67,"h":212.78,"l":212.63,"c":212.74},{"i":86,"o":212.74,"h":213.14,"l":212.72,"c":213.08},{"i":87,"o":212.98,"h":213.2,"l":212.95,"c":213.15},{"i":88,"o":213.14,"h":213.3,"l":213.12,"c":213.27},{"i":89,"o":213.27,"h":213.3,"l":213.1,"c":213.14},{"i":90,"o":213.12,"h":213.2,"l":213,"c":213.04},{"i":91,"o":213.04,"h":213.17,"l":213.02,"c":213.11},{"i":92,"o":213.11,"h":213.18,"l":213.03,"c":213.12},{"i":93,"o":213.09,"h":213.2,"l":212.95,"c":213.15},{"i":94,"o":213.17,"h":213.2,"l":213.1,"c":213.15},{"i":95,"o":213.14,"h":213.19,"l":213.05,"c":213.13},{"i":96,"o":213.13,"h":213.23,"l":213.08,"c":213.2},{"i":97,"o":213.21,"h":213.23,"l":212.9,"c":212.99},{"i":98,"o":212.99,"h":213.08,"l":212.95,"c":213.03},{"i":99,"o":213.02,"h":213.12,"l":213,"c":213.09},{"i":100,"o":213.09,"h":213.12,"l":213.03,"c":213.07},{"i":101,"o":213.06,"h":213.09,"l":212.98,"c":212.99},{"i":102,"o":212.98,"h":213.09,"l":212.95,"c":213.04},{"i":103,"o":213.04,"h":213.08,"l":212.95,"c":213.01},{"i":104,"o":213.01,"h":213.07,"l":212.87,"c":212.89},{"i":105,"o":212.88,"h":212.92,"l":212.82,"c":212.85},{"i":106,"o":212.84,"h":212.86,"l":212.63,"c":212.71},{"i":107,"o":212.712,"h":212.904,"l":212.711,"c":212.886}],
"dR":[{"i":2.3,"p":213.49},{"i":5,"p":212.93},{"i":7.7,"p":212.42},{"i":10,"p":212.02},{"i":12.7,"p":211.54},{"i":15,"p":211.14},{"i":19,"p":210.82},{"i":21,"p":210.86},{"i":23.6,"p":210.95},{"i":26.8,"p":211.07},{"i":30,"p":211.14},{"i":32.7,"p":211.31},{"i":35.4,"p":211.48},{"i":39,"p":211.67},{"i":42.7,"p":211.82},{"i":46.4,"p":211.93},{"i":50,"p":211.97},{"i":53.6,"p":211.98},{"i":57.3,"p":212.1},{"i":61,"p":212.15},{"i":64.5,"p":212.2},{"i":69,"p":212.3},{"i":73.6,"p":212.33},{"i":79,"p":212.33},{"i":82.7,"p":212.39},{"i":85.5,"p":212.44},{"i":88.6,"p":212.57},{"i":92.7,"p":212.72},{"i":96.4,"p":212.87},{"i":99,"p":212.96},{"i":101.8,"p":213.05},{"i":104.5,"p":213.07},{"i":106.8,"p":213.04}],
"dG":[{"i":35.3,"p":213.48},{"i":39,"p":213.14},{"i":43.6,"p":212.78},{"i":47.3,"p":212.67},{"i":50.9,"p":212.55},{"i":54.5,"p":212.42},{"i":58,"p":212.24},{"i":62.7,"p":212.04},{"i":66.4,"p":211.96},{"i":69,"p":211.89},{"i":75,"p":211.74},{"i":79,"p":211.74},{"i":83.6,"p":211.84},{"i":89,"p":211.98},{"i":92.7,"p":212.08},{"i":98,"p":212.27},{"i":101.8,"p":212.34},{"i":106.8,"p":212.42}],
"dZ":[{"i":0,"p":211.42},{"i":0.4,"p":210.87},{"i":1.6,"p":209.73},{"i":2.9,"p":210.39},{"i":6.8,"p":211.16},{"i":12.7,"p":210.55},{"i":14.4,"p":210.44},{"i":18.6,"p":211.23},{"i":22.5,"p":210.93},{"i":26.4,"p":211.84},{"i":30.5,"p":211.39},{"i":32.7,"p":212.26},{"i":37.3,"p":211.56},{"i":42.9,"p":212.21},{"i":51.1,"p":211.75},{"i":57.7,"p":212.44},{"i":62.5,"p":212.05},{"i":68.4,"p":212.44},{"i":74.8,"p":212.21},{"i":78.6,"p":212.52},{"i":82,"p":212.38},{"i":85.5,"p":213.13},{"i":88.4,"p":212.88},{"i":89.5,"p":213.24}],
"clockDots":[{"i":12.36,"p":215.8},{"i":13.04,"p":215.79},{"i":13.71,"p":215.77},{"i":14.37,"p":215.74},{"i":15.01,"p":215.69},{"i":15.61,"p":215.63},{"i":16.18,"p":215.56},{"i":16.71,"p":215.47},{"i":17.19,"p":215.38},{"i":17.62,"p":215.27},{"i":17.99,"p":215.16},{"i":18.3,"p":215.04},{"i":18.54,"p":214.92},{"i":18.72,"p":214.79},{"i":18.83,"p":214.65},{"i":18.86,"p":214.52},{"i":18.83,"p":214.39},{"i":18.72,"p":214.25},{"i":18.54,"p":214.12},{"i":18.3,"p":214},{"i":17.99,"p":213.88},{"i":17.62,"p":213.77},{"i":17.19,"p":213.66},{"i":16.71,"p":213.57},{"i":16.18,"p":213.48},{"i":15.61,"p":213.41},{"i":15.01,"p":213.35},{"i":14.37,"p":213.3},{"i":13.71,"p":213.27},{"i":13.04,"p":213.25},{"i":12.36,"p":213.24},{"i":11.68,"p":213.25},{"i":11.01,"p":213.27},{"i":10.35,"p":213.3},{"i":9.71,"p":213.35},{"i":9.11,"p":213.41},{"i":8.54,"p":213.48},{"i":8.01,"p":213.57},{"i":7.53,"p":213.66},{"i":7.1,"p":213.77},{"i":6.73,"p":213.88},{"i":6.42,"p":214},{"i":6.18,"p":214.12},{"i":6,"p":214.25},{"i":5.89,"p":214.39},{"i":5.86,"p":214.52},{"i":5.89,"p":214.65},{"i":6,"p":214.79},{"i":6.18,"p":214.92},{"i":6.42,"p":215.04},{"i":6.73,"p":215.16},{"i":7.1,"p":215.27},{"i":7.53,"p":215.38},{"i":8.01,"p":215.47},{"i":8.54,"p":215.56},{"i":9.11,"p":215.63},{"i":9.71,"p":215.69},{"i":10.35,"p":215.74},{"i":11.01,"p":215.77},{"i":11.68,"p":215.79}]
},
"concat":[
{"width":692,"height":448,"encoding":{"x":{"field":"i","type":"quantitative","scale":{"domain":[-0.4125,86.0875],"nice":false,"zero":false,"padding":0},"axis":{"values":[0,8,16,24,32,40,48,56,64],"labelOverlap":false,"labelAlign":"left","labelBaseline":"top","labelExpr":"['27 Apr 2025','22 Jun 2025','17 Aug 2025','12 Oct 2025','7 Dec 2025','1 Feb 2026','29 Mar 2026','24 May 2026','19 Jul 2026'][datum.value/8]"}},"y":{"field":"p","type":"quantitative","scale":{"domain":[189.218,221.287],"nice":false,"zero":false},"axis":{"orient":"right","format":".3f","labelOverlap":false,"tickCount":40,"values":[220.07,217.69,215.31,210.62,208.24,205.93,203.55,201.17,198.79,196.48,194.1,191.72,189.41]}}},
"layer":[
{"data":{"values":[{"i":-0.6625,"i2":91,"p":221.48,"p2":215}]},"mark":{"type":"rect","opacity":0},"encoding":{"x2":{"field":"i2"},"y2":{"field":"p2"}}},
{"data":{"values":[{"i":2.2,"p":202.39,"t":"GBPJPY W1"}]},"mark":{"type":"text","font":"Liberation Sans","fontSize":112.5,"align":"left","baseline":"alphabetic","color":"#3c4240"},"encoding":{"text":{"field":"t"}}},
{"data":{"values":[{"i":36,"p":221.2,"p2":189.25}]},"mark":{"type":"rule","color":"#d4d4d4","strokeDash":[3,3],"strokeWidth":1},"encoding":{"y2":{"field":"p2"}}},
{"data":{"values":[{"i":-0.075,"i2":86.09,"p":212.458}]},"mark":{"type":"rule","color":"#1e90ff","strokeWidth":1},"encoding":{"x2":{"field":"i2"}}},
{"data":{"name":"a"},"mark":{"type":"rule","color":"#0a7d18","strokeWidth":1,"clip":true},"encoding":{"y":{"field":"l","type":"quantitative","axis":{"orient":"right","title":null,"labelOverlap":false}},"y2":{"field":"h"}}},
{"data":{"name":"a"},"mark":{"type":"bar","orient":"vertical","size":4,"stroke":"#0a7d18","strokeWidth":1,"clip":true},"encoding":{"y":{"field":"o","type":"quantitative","axis":{"orient":"right","title":null,"labelOverlap":false}},"y2":{"field":"c"},"fill":{"condition":{"test":"datum.c>=datum.o","value":"#00796b"},"value":"#ffffff"}}},
{"data":{"name":"aR"},"mark":{"type":"line","color":"#ff0000","strokeWidth":1,"clip":true}},
{"data":{"name":"aZ"},"mark":{"type":"line","color":"#ffa500","strokeWidth":2.2,"clip":true}},
{"data":{"values":[{"i":-0.075,"i2":86.09,"p":221.26,"p2":189.24}]},"mark":{"type":"rect","filled":false,"stroke":"#b9b9b9","strokeWidth":1},"encoding":{"x2":{"field":"i2"},"y2":{"field":"p2"}}},
{"data":{"values":[{"i":-0.6625,"i2":91.96,"p":187.68,"p2":187.68},{"i":91.96,"i2":91.96,"p":221.4,"p2":187.68}]},"mark":{"type":"rule","color":"#b4b4b4","strokeWidth":3},"encoding":{"x2":{"field":"i2"},"y2":{"field":"p2"}}},
{"data":{"values":[{"i":1.84,"p":220.64,"t":"GBPJPY#,Weekly  211.995 213.291 209.555 212.886"}]},"mark":{"type":"text","fontSize":9.5,"align":"left","color":"#c6cacc"},"encoding":{"text":{"field":"t"}}},
{"data":{"values":[{"i":0.75,"p":220.64}]},"mark":{"type":"point","shape":"triangle-down","filled":true,"size":28,"color":"#dddddd"}},
{"data":{"values":[{"i":48.1,"i2":51.9,"p":190.15,"p2":189.22},{"i":52,"i2":53.9,"p":190.15,"p2":189.22}]},"mark":{"type":"rect","fill":"#bdbdbd","stroke":"#dcdcdc"},"encoding":{"x2":{"field":"i2"},"y2":{"field":"p2"}}},
{"data":{"values":[{"i":55.2,"i2":70.96,"p":190.15,"p2":189.22}]},"mark":{"type":"rect","fill":"#ffffff"},"encoding":{"x2":{"field":"i2"},"y2":{"field":"p2"}}},
{"data":{"values":[{"i":50,"p":189.68,"t":"CR1"},{"i":53,"p":189.68,"t":"R"}]},"mark":{"type":"text","fontSize":10,"color":"#222222"},"encoding":{"text":{"field":"t"}}},
{"data":{"values":[{"i":63,"p":189.68,"t":"2026.08.09 00:00"}]},"mark":{"type":"text","font":"DejaVu Sans Mono","fontSize":11.5,"color":"#000000"},"encoding":{"text":{"field":"t"}}},
{"data":{"values":[{"k":"grey","t":"212.886","i":86.2,"i2":91.5,"p":212.886,"p1":213.31,"p2":212.46},{"k":"blue","t":"212.458","i":86.2,"i2":91.5,"p":212.458,"p1":212.88,"p2":212.03}]},"mark":{"type":"rect"},"encoding":{"x2":{"field":"i2"},"y":{"field":"p1","type":"quantitative","axis":{"orient":"right","title":null,"labelOverlap":false}},"y2":{"field":"p2"},"fill":{"field":"k","type":"nominal","legend":null,"scale":{"domain":["white","grey","orange","blue","green"],"range":["#ffffff","#c0c0c0","#ffa500","#1e90ff","#006400"]}}}},
{"data":{"values":[{"k":"grey","t":"212.886","i":86.2,"p":212.886},{"k":"blue","t":"212.458","i":86.2,"p":212.458}]},"mark":{"type":"text","fontSize":9.5,"align":"left","dx":3},"encoding":{"text":{"field":"t"},"color":{"field":"k","type":"nominal","legend":null,"scale":{"domain":["white","grey","orange","blue","green"],"range":["#000000","#777777","#6b5200","#e4f2ff","#2aa02a"]}}}}
]},
{"width":1097,"height":448,"encoding":{"x":{"field":"i","type":"quantitative","scale":{"domain":[0.025,137.15],"nice":false,"zero":false,"padding":0},"axis":{"values":[0.03,8,16,24,32,40,48,56,64,72,80,88,96,104],"labelOverlap":false,"labelAlign":"left","labelBaseline":"top","labelExpr":"['14 Jul 2026','16 Jul 00:00','17 Jul 08:00','20 Jul 16:00','22 Jul 00:00','23 Jul 08:00','24 Jul 16:00','28 Jul 00:00','29 Jul 08:00','30 Jul 16:00','3 Aug 00:00','4 Aug 08:00','5 Aug 16:00','7 Aug 00:00'][round(datum.value/8)]"}},"y":{"field":"p","type":"quantitative","scale":{"domain":[209.245,220.148],"nice":false,"zero":false},"axis":{"orient":"right","format":".3f","labelOverlap":false,"tickCount":40,"values":[219.8,219,218.2,217.4,216.58,215.78,214.98,214.18,213.38,211.76,210.96,210.16,209.36]}}},
"layer":[
{"data":{"values":[{"i":29.5,"p":213.75,"t":"GBPJPY H4"}]},"mark":{"type":"text","font":"Liberation Sans","fontSize":112.5,"align":"left","baseline":"alphabetic","color":"#3c4240"},"encoding":{"text":{"field":"t"}}},
{"data":{"values":[{"i":20,"p":220.1,"p2":209.28},{"i":50,"p":220.1,"p2":209.28},{"i":80,"p":220.1,"p2":209.28},{"i":116,"p":220.1,"p2":209.28}]},"mark":{"type":"rule","color":"#d4d4d4","strokeDash":[3,3],"strokeWidth":1},"encoding":{"y2":{"field":"p2"}}},
{"data":{"values":[{"k":"white","i":0.025,"i2":137.15,"p":217.629},{"k":"blue","i":0.025,"i2":137.15,"p":212.458},{"k":"orange","i":0.025,"i2":137.15,"p":212.561}]},"mark":{"type":"rule","strokeWidth":1.5},"encoding":{"x2":{"field":"i2"},"stroke":{"field":"k","type":"nominal","legend":null,"scale":{"domain":["white","orange","blue","green"],"range":["#ffffff","#ffa500","#1e90ff","#0b6b0b"]}}}},
{"data":{"name":"b"},"mark":{"type":"rule","color":"#0a7d18","strokeWidth":1,"clip":true},"encoding":{"y":{"field":"l","type":"quantitative","axis":{"orient":"right","title":null,"labelOverlap":false}},"y2":{"field":"h"}}},
{"data":{"name":"b"},"mark":{"type":"bar","orient":"vertical","size":4,"stroke":"#0a7d18","strokeWidth":1,"clip":true},"encoding":{"y":{"field":"o","type":"quantitative","axis":{"orient":"right","title":null,"labelOverlap":false}},"y2":{"field":"c"},"fill":{"condition":{"test":"datum.c>=datum.o","value":"#00796b"},"value":"#ffffff"}}},
{"data":{"name":"bG"},"mark":{"type":"line","color":"#2e8b57","strokeWidth":1,"clip":true}},
{"data":{"name":"bR"},"mark":{"type":"line","color":"#ff0000","strokeWidth":1,"clip":true}},
{"data":{"name":"bZ"},"mark":{"type":"line","color":"#ffa500","strokeWidth":2.2,"clip":true}},
{"data":{"values":[{"i":0.025,"i2":137.15,"p":220.14,"p2":209.28}]},"mark":{"type":"rect","filled":false,"stroke":"#b9b9b9","strokeWidth":1},"encoding":{"x2":{"field":"i2"},"y2":{"field":"p2"}}},
{"data":{"values":[{"i":-0.6,"i2":141.9,"p":208.72,"p2":208.72}]},"mark":{"type":"rule","color":"#b4b4b4","strokeWidth":3},"encoding":{"x2":{"field":"i2"},"y2":{"field":"p2"}}},
{"data":{"values":[{"i":1.9,"p":219.936,"t":"GBPJPY#,H4  212.890 212.937 212.635 212.886"}]},"mark":{"type":"text","fontSize":9.5,"align":"left","color":"#c6cacc"},"encoding":{"text":{"field":"t"}}},
{"data":{"values":[{"i":0.78,"p":219.936}]},"mark":{"type":"point","shape":"triangle-down","filled":true,"size":28,"color":"#dddddd"}},
{"data":{"values":[{"i":0.05,"i2":3.8,"p":209.61,"p2":209.32},{"i":4.1,"i2":6.1,"p":209.61,"p2":209.32}]},"mark":{"type":"rect","fill":"#bdbdbd","stroke":"#dcdcdc"},"encoding":{"x2":{"field":"i2"},"y2":{"field":"p2"}}},
{"data":{"values":[{"i":6.2,"i2":21.8,"p":209.61,"p2":209.32}]},"mark":{"type":"rect","fill":"#ffffff"},"encoding":{"x2":{"field":"i2"},"y2":{"field":"p2"}}},
{"data":{"values":[{"i":1.9,"p":209.46,"t":"CR1"},{"i":5.1,"p":209.46,"t":"R"}]},"mark":{"type":"text","fontSize":10,"color":"#222222"},"encoding":{"text":{"field":"t"}}},
{"data":{"values":[{"i":14,"p":209.46,"t":"2026.08.07 16:00"}]},"mark":{"type":"text","font":"DejaVu Sans Mono","fontSize":11.5,"color":"#000000"},"encoding":{"text":{"field":"t"}}},
{"data":{"values":[{"k":"white","t":"217.629","i":137.3,"i2":141.9,"p":217.629,"p1":217.775,"p2":217.483},{"k":"grey","t":"212.886","i":137.3,"i2":141.9,"p":212.886,"p1":213.03,"p2":212.74},{"k":"blue","t":"212.458","i":137.3,"i2":141.9,"p":212.458,"p1":212.6,"p2":212.31},{"k":"orange","t":"212.561","i":137.3,"i2":141.9,"p":212.561,"p1":212.71,"p2":212.41}]},"mark":{"type":"rect"},"encoding":{"x2":{"field":"i2"},"y":{"field":"p1","type":"quantitative","axis":{"orient":"right","title":null,"labelOverlap":false}},"y2":{"field":"p2"},"fill":{"field":"k","type":"nominal","legend":null,"scale":{"domain":["white","grey","orange","blue","green"],"range":["#ffffff","#c0c0c0","#ffa500","#1e90ff","#006400"]}}}},
{"data":{"values":[{"k":"white","t":"217.629","i":137.3,"p":217.629},{"k":"grey","t":"212.886","i":137.3,"p":212.886},{"k":"orange","t":"212.561","i":137.3,"p":212.561}]},"mark":{"type":"text","fontSize":9.5,"align":"left","dx":3},"encoding":{"text":{"field":"t"},"color":{"field":"k","type":"nominal","legend":null,"scale":{"domain":["white","grey","orange","blue","green"],"range":["#000000","#777777","#6b5200","#e4f2ff","#2aa02a"]}}}}
]},
{"width":692,"height":444,"encoding":{"x":{"field":"i","type":"quantitative","scale":{"domain":[-0.225,86.275],"nice":false,"zero":false,"padding":0},"axis":{"values":[0,8,16,24,32,40,48,56,64],"labelOverlap":false,"labelAlign":"left","labelBaseline":"top","labelExpr":"['6 May 2026','18 May 2026','28 May 2026','9 Jun 2026','19 Jun 2026','1 Jul 2026','13 Jul 2026','23 Jul 2026','4 Aug 2026'][datum.value/8]"}},"y":{"field":"p","type":"quantitative","scale":{"domain":[209.272,220.208],"nice":false,"zero":false},"axis":{"orient":"right","format":".3f","labelOverlap":false,"tickCount":40,"values":[219.92,219.12,218.3,217.48,216.68,215.86,215.04,214.24,213.42,212.6,211.8,210.98,210.18,209.36]}}},
"layer":[
{"data":{"values":[{"i":4.15,"p":213.76,"t":"GBPJPY D1"}]},"mark":{"type":"text","font":"Liberation Sans","fontSize":112.5,"align":"left","baseline":"alphabetic","color":"#3c4240"},"encoding":{"text":{"field":"t"}}},
{"data":{"values":[{"i":18,"p":220.16,"p2":209.3},{"i":39.8,"p":220.16,"p2":209.3},{"i":62.8,"p":220.16,"p2":209.3}]},"mark":{"type":"rule","color":"#d4d4d4","strokeDash":[3,3],"strokeWidth":1},"encoding":{"y2":{"field":"p2"}}},
{"data":{"values":[{"k":"white","i":-0.175,"i2":86.275,"p":217.629},{"k":"blue","i":-0.175,"i2":86.275,"p":212.458}]},"mark":{"type":"rule","strokeWidth":1.5},"encoding":{"x2":{"field":"i2"},"stroke":{"field":"k","type":"nominal","legend":null,"scale":{"domain":["white","orange","blue","green"],"range":["#ffffff","#ffa500","#1e90ff","#0b6b0b"]}}}},
{"data":{"name":"c"},"mark":{"type":"rule","color":"#0a7d18","strokeWidth":1,"clip":true},"encoding":{"y":{"field":"l","type":"quantitative","axis":{"orient":"right","title":null,"labelOverlap":false}},"y2":{"field":"h"}}},
{"data":{"name":"c"},"mark":{"type":"bar","orient":"vertical","size":4,"stroke":"#0a7d18","strokeWidth":1,"clip":true},"encoding":{"y":{"field":"o","type":"quantitative","axis":{"orient":"right","title":null,"labelOverlap":false}},"y2":{"field":"c"},"fill":{"condition":{"test":"datum.c>=datum.o","value":"#00796b"},"value":"#ffffff"}}},
{"data":{"name":"cG"},"mark":{"type":"line","color":"#228b22","strokeWidth":1,"clip":true}},
{"data":{"name":"cR"},"mark":{"type":"line","color":"#ff0000","strokeWidth":1,"clip":true}},
{"data":{"name":"cZ"},"mark":{"type":"line","color":"#ffa500","strokeWidth":2.2,"clip":true}},
{"data":{"values":[{"i":-0.175,"i2":86.275,"p":220.16,"p2":209.3}]},"mark":{"type":"rect","filled":false,"stroke":"#b9b9b9","strokeWidth":1},"encoding":{"x2":{"field":"i2"},"y2":{"field":"p2"}}},
{"data":{"values":[{"i":92.15,"i2":92.15,"p":220.26,"p2":208.82}]},"mark":{"type":"rule","color":"#b4b4b4","strokeWidth":3},"encoding":{"x2":{"field":"i2"},"y2":{"field":"p2"}}},
{"data":{"values":[{"i":1.78,"p":219.945,"t":"GBPJPY#,Daily  213.102 213.254 212.635 212.886"}]},"mark":{"type":"text","fontSize":9.5,"align":"left","color":"#c6cacc"},"encoding":{"text":{"field":"t"}}},
{"data":{"values":[{"i":0.7,"p":219.945}]},"mark":{"type":"point","shape":"triangle-down","filled":true,"size":28,"color":"#dddddd"}},
{"data":{"values":[{"i":48.5,"i2":52.15,"p":209.62,"p2":209.31},{"i":52.3,"i2":54.3,"p":209.62,"p2":209.31}]},"mark":{"type":"rect","fill":"#bdbdbd","stroke":"#dcdcdc"},"encoding":{"x2":{"field":"i2"},"y2":{"field":"p2"}}},
{"data":{"values":[{"i":55.4,"i2":71.1,"p":209.62,"p2":209.31}]},"mark":{"type":"rect","fill":"#ffffff"},"encoding":{"x2":{"field":"i2"},"y2":{"field":"p2"}}},
{"data":{"values":[{"i":50.3,"p":209.47,"t":"CR1"},{"i":53.3,"p":209.47,"t":"R"}]},"mark":{"type":"text","fontSize":10,"color":"#222222"},"encoding":{"text":{"field":"t"}}},
{"data":{"values":[{"i":63.25,"p":209.47,"t":"2026.08.08 00:00"}]},"mark":{"type":"text","font":"DejaVu Sans Mono","fontSize":11.5,"color":"#000000"},"encoding":{"text":{"field":"t"}}},
{"data":{"values":[{"i":43.15,"p":209.45}]},"mark":{"type":"point","shape":"M-1,-1L1,1M-1,1L1,-1M-1,-0.4L0.4,1M-0.4,-1L1,0.4","size":140,"stroke":"#ffa500","strokeWidth":1.5,"filled":false}},
{"data":{"values":[{"i":42.6,"i2":67.8,"p":209.29,"p2":208.82}]},"mark":{"type":"rect","fill":"#dcdcdc"},"encoding":{"x2":{"field":"i2"},"y2":{"field":"p2"}}},
{"data":{"values":[{"i":43.3,"p":209.05,"t":"Great Britain Pound vs Japanese Yen"}]},"mark":{"type":"text","fontSize":11.5,"align":"left","color":"#6b6b6b"},"encoding":{"text":{"field":"t"}}},
{"data":{"values":[{"k":"white","t":"217.629","i":86.5,"i2":91.65,"p":217.629,"p1":217.775,"p2":217.483},{"k":"grey","t":"212.886","i":86.5,"i2":91.65,"p":212.886,"p1":213.03,"p2":212.74},{"k":"blue","t":"212.458","i":86.5,"i2":91.65,"p":212.458,"p1":212.6,"p2":212.31}]},"mark":{"type":"rect"},"encoding":{"x2":{"field":"i2"},"y":{"field":"p1","type":"quantitative","axis":{"orient":"right","title":null,"labelOverlap":false}},"y2":{"field":"p2"},"fill":{"field":"k","type":"nominal","legend":null,"scale":{"domain":["white","grey","orange","blue","green"],"range":["#ffffff","#c0c0c0","#ffa500","#1e90ff","#006400"]}}}},
{"data":{"values":[{"k":"white","t":"217.629","i":86.5,"p":217.629},{"k":"grey","t":"212.886","i":86.5,"p":212.886},{"k":"blue","t":"212.458","i":86.5,"p":212.458}]},"mark":{"type":"text","fontSize":9.5,"align":"left","dx":3},"encoding":{"text":{"field":"t"},"color":{"field":"k","type":"nominal","legend":null,"scale":{"domain":["white","grey","orange","blue","green"],"range":["#000000","#777777","#6b5200","#e4f2ff","#2aa02a"]}}}},
{"data":{"values":[{"i":12.36,"p":214.52}]},"mark":{"type":"point","shape":"circle","filled":true,"size":14200,"fill":"#ffffff","stroke":"#6a98cf","strokeWidth":3.5,"opacity":1}},
{"data":{"name":"clockDots"},"mark":{"type":"point","shape":"circle","filled":true,"size":4,"color":"#1c3c78"}},
{"data":{"values":[{"i":12.57,"p":215.51,"t":"12"},{"i":15.07,"p":215.39,"t":"1"},{"i":17.03,"p":215.03,"t":"2"},{"i":17.8,"p":214.49,"t":"3"},{"i":17.03,"p":213.97,"t":"4"},{"i":15.11,"p":213.62,"t":"5"},{"i":12.44,"p":213.47,"t":"6"},{"i":9.86,"p":213.62,"t":"7"},{"i":7.86,"p":213.97,"t":"8"},{"i":7.15,"p":214.49,"t":"9"},{"i":8.15,"p":214.98,"t":"10"},{"i":9.9,"p":215.36,"t":"11"}]},"mark":{"type":"text","fontSize":12.5,"fontWeight":"bold","color":"#1e6fd6"},"encoding":{"text":{"field":"t"}}},
{"data":{"values":[{"i":12.78,"p":214.86,"t":"2026/08/07"}]},"mark":{"type":"text","fontSize":12,"color":"#7e7e7e"},"encoding":{"text":{"field":"t"}}},
{"data":{"values":[{"i":12.44,"p":213.75,"t":"PM"}]},"mark":{"type":"text","font":"Liberation Serif","fontSize":9.5,"color":"#666666"},"encoding":{"text":{"field":"t"}}},
{"data":{"values":[{"i":12.94,"i2":8.28,"p":214.5,"p2":214.42}]},"mark":{"type":"rule","color":"#444444","strokeWidth":3.5},"encoding":{"x2":{"field":"i2"},"y2":{"field":"p2"}}},
{"data":{"values":[{"i":12.94,"i2":8.28,"p":214.39,"p2":215.44}]},"mark":{"type":"rule","color":"#000000","strokeWidth":2.2},"encoding":{"x2":{"field":"i2"},"y2":{"field":"p2"}}},
{"data":{"values":[{"i":12.65,"i2":18.9,"p":214.46,"p2":214.89}]},"mark":{"type":"rule","color":"#e8203c","strokeWidth":1.3},"encoding":{"x2":{"field":"i2"},"y2":{"field":"p2"}}}
]},
{"width":1097,"height":444,"encoding":{"x":{"field":"i","type":"quantitative","scale":{"domain":[-0.1625,136.9625],"nice":false,"zero":false,"padding":0},"axis":{"values":[0,8,16,24,32,40,48,56,64,72,80,88,96,104],"labelOverlap":false,"labelAlign":"left","labelBaseline":"top","labelExpr":"['3 Aug 2026','3 Aug 11:00','3 Aug 19:00','4 Aug 03:00','4 Aug 11:00','4 Aug 19:00','5 Aug 03:00','5 Aug 11:00','5 Aug 19:00','6 Aug 03:00','6 Aug 11:00','6 Aug 19:00','7 Aug 03:00','7 Aug 11:00'][datum.value/8]"}},"y":{"field":"p","type":"quantitative","scale":{"domain":[209.456,213.492],"nice":false,"zero":false},"axis":{"orient":"right","format":".3f","labelOverlap":false,"tickCount":40,"values":[213.38,213.08,212.78,212.18,211.88,211.58,211.28,210.98,210.68,210.38,210.08,209.78,209.48]}}},
"layer":[
{"data":{"values":[{"i":1,"i2":141.71,"p":213,"p2":209.283}]},"mark":{"type":"rect","opacity":0},"encoding":{"x2":{"field":"i2"},"y2":{"field":"p2"}}},
{"data":{"values":[{"i":29.3,"p":211.11,"t":"GBPJPY H1"}]},"mark":{"type":"text","font":"Liberation Sans","fontSize":112.5,"align":"left","baseline":"alphabetic","color":"#3c4240"},"encoding":{"text":{"field":"t"}}},
{"data":{"values":[{"i":21,"p":213.48,"p2":209.46},{"i":45,"p":213.48,"p2":209.46},{"i":69,"p":213.48,"p2":209.46},{"i":93,"p":213.48,"p2":209.46},{"i":117,"p":213.48,"p2":209.46}]},"mark":{"type":"rule","color":"#d4d4d4","strokeDash":[3,3],"strokeWidth":1},"encoding":{"y2":{"field":"p2"}}},
{"data":{"values":[{"k":"green","i":0,"i2":137,"p":212.873},{"k":"orange","i":0,"i2":137,"p":212.561},{"k":"blue","i":0,"i2":137,"p":212.458}]},"mark":{"type":"rule","strokeWidth":1.5},"encoding":{"x2":{"field":"i2"},"stroke":{"field":"k","type":"nominal","legend":null,"scale":{"domain":["white","orange","blue","green"],"range":["#ffffff","#ffa500","#1e90ff","#0b6b0b"]}}}},
{"data":{"name":"d"},"mark":{"type":"rule","color":"#0a7d18","strokeWidth":1,"clip":true},"encoding":{"y":{"field":"l","type":"quantitative","axis":{"orient":"right","title":null,"labelOverlap":false}},"y2":{"field":"h"}}},
{"data":{"name":"d"},"mark":{"type":"bar","orient":"vertical","size":4,"stroke":"#0a7d18","strokeWidth":1,"clip":true},"encoding":{"y":{"field":"o","type":"quantitative","axis":{"orient":"right","title":null,"labelOverlap":false}},"y2":{"field":"c"},"fill":{"condition":{"test":"datum.c>=datum.o","value":"#00796b"},"value":"#ffffff"}}},
{"data":{"name":"dG"},"mark":{"type":"line","color":"#2e8b57","strokeWidth":1,"clip":true}},
{"data":{"name":"dR"},"mark":{"type":"line","color":"#ff0000","strokeWidth":1,"clip":true}},
{"data":{"name":"dZ"},"mark":{"type":"line","color":"#ffa500","strokeWidth":2.2,"clip":true}},
{"data":{"values":[{"i":0,"i2":137,"p":213.47,"p2":213.47}]},"mark":{"type":"rule","color":"#32cd32","strokeWidth":3},"encoding":{"x2":{"field":"i2"},"y2":{"field":"p2"}}},
{"data":{"values":[{"i":0,"i2":137,"p":213.485,"p2":209.46}]},"mark":{"type":"rect","filled":false,"stroke":"#b9b9b9","strokeWidth":1},"encoding":{"x2":{"field":"i2"},"y2":{"field":"p2"}}},
{"data":{"values":[{"i":1.8,"p":213.413,"t":"GBPJPY#,H1  212.712 212.904 212.711 212.886"}]},"mark":{"type":"text","fontSize":9.5,"align":"left","color":"#c6cacc"},"encoding":{"text":{"field":"t"}}},
{"data":{"values":[{"i":0.7,"p":213.413}]},"mark":{"type":"point","shape":"triangle-down","filled":true,"size":28,"color":"#dddddd"}},
{"data":{"values":[{"i":3.2,"p":211.37}]},"mark":{"type":"point","shape":"M-1,-1L1,1M-1,1L1,-1M-1,-0.4L0.4,1M-0.4,-1L1,0.4","size":140,"stroke":"#ffa500","strokeWidth":1.5,"filled":false}},
{"data":{"values":[{"i":-0.16,"i2":3.6,"p":209.57,"p2":209.46},{"i":3.9,"i2":5.9,"p":209.57,"p2":209.46}]},"mark":{"type":"rect","fill":"#bdbdbd","stroke":"#dcdcdc"},"encoding":{"x2":{"field":"i2"},"y2":{"field":"p2"}}},
{"data":{"values":[{"i":6,"i2":21.6,"p":209.57,"p2":209.46}]},"mark":{"type":"rect","fill":"#ffffff"},"encoding":{"x2":{"field":"i2"},"y2":{"field":"p2"}}},
{"data":{"values":[{"i":1.7,"p":209.52,"t":"CR1"},{"i":4.9,"p":209.52,"t":"R"}]},"mark":{"type":"text","fontSize":10,"color":"#222222"},"encoding":{"text":{"field":"t"}}},
{"data":{"values":[{"i":13.8,"p":209.52,"t":"2026.08.07 15:00"}]},"mark":{"type":"text","font":"DejaVu Sans Mono","fontSize":11.5,"color":"#000000"},"encoding":{"text":{"field":"t"}}},
{"data":{"values":[{"k":"green","t":"212.873","i":137.1,"i2":141.71,"p":212.873,"p1":212.925,"p2":212.82},{"k":"blue","t":"212.458","i":137.1,"i2":141.71,"p":212.458,"p1":212.51,"p2":212.405},{"k":"orange","t":"212.561","i":137.1,"i2":141.71,"p":212.561,"p1":212.615,"p2":212.51}]},"mark":{"type":"rect"},"encoding":{"x2":{"field":"i2"},"y":{"field":"p1","type":"quantitative","axis":{"orient":"right","title":null,"labelOverlap":false}},"y2":{"field":"p2"},"fill":{"field":"k","type":"nominal","legend":null,"scale":{"domain":["white","grey","orange","blue","green"],"range":["#ffffff","#c0c0c0","#ffa500","#1e90ff","#006400"]}}}},
{"data":{"values":[{"k":"green","t":"212.873","i":137.1,"p":212.873},{"k":"blue","t":"212.458","i":137.1,"p":212.458},{"k":"orange","t":"212.561","i":137.1,"p":212.561}]},"mark":{"type":"text","fontSize":9.5,"align":"left","dx":3},"encoding":{"text":{"field":"t"},"color":{"field":"k","type":"nominal","legend":null,"scale":{"domain":["white","grey","orange","blue","green"],"range":["#000000","#777777","#6b5200","#e4f2ff","#2aa02a"]}}}}
]}
]}
